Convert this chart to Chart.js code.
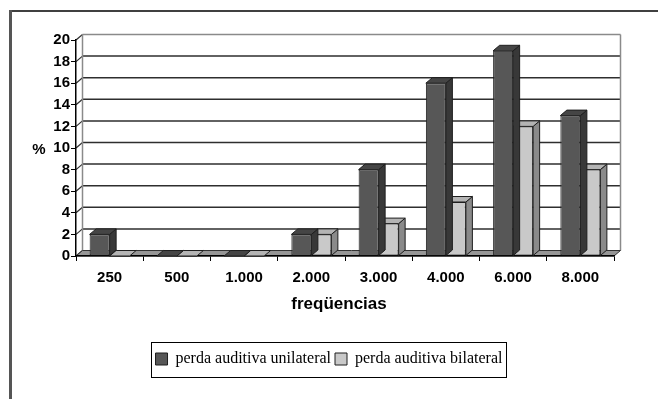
<!DOCTYPE html>
<html>
<head>
<meta charset="utf-8">
<title>Perda auditiva por frequência</title>
<script src="https://cdn.jsdelivr.net/npm/chart.js@4.4.1/dist/chart.umd.min.js"></script>
<style>
  html, body { margin: 0; padding: 0; background: #fff; }
  #wrap { width: 658px; height: 399px; }
</style>
</head>
<body>
<div id="wrap"><canvas id="grafico"></canvas></div>
<script>
const frequencias = ['250', '500', '1.000', '2.000', '3.000', '4.000', '6.000', '8.000'];
const unilateral = [2, 0, 0, 2, 8, 16, 19, 13];
const bilateral = [0, 0, 0, 2, 3, 5, 12, 8];
const yMin = 0;
const yMax = 20;
const yPasso = 2;

// profundidade do efeito 3D (deslocamento da parede do fundo)
const DX = 6.5;
const DY = -5.5;

const cores = {
    uni: { frente: '#575757', topo: '#454545', lado: '#383838' },
    bi: { frente: '#c9c9c9', topo: '#b4b4b4', lado: '#8a8a8a' }
};
const contorno = '#1e1e1e';

function poligono(ctx, pts, fill, stroke, lw) {
    ctx.beginPath();
    ctx.moveTo(pts[0][0], pts[0][1]);
    for (let i = 1; i < pts.length; i++) ctx.lineTo(pts[i][0], pts[i][1]);
    ctx.closePath();
    if (fill) { ctx.fillStyle = fill; ctx.fill(); }
    if (stroke) { ctx.strokeStyle = stroke; ctx.lineWidth = lw || 1; ctx.stroke(); }
}

function linha(ctx, x1, y1, x2, y2, cor, lw) {
    ctx.beginPath();
    ctx.moveTo(x1, y1);
    ctx.lineTo(x2, y2);
    ctx.strokeStyle = cor;
    ctx.lineWidth = lw;
    ctx.stroke();
}

const caixa3d = {
    id: 'caixa3d',
    beforeDraw(chart) {
        const ctx = chart.ctx;
        const a = chart.chartArea;
        const ys = chart.scales.y;
        ctx.save();
        ctx.fillStyle = '#fff';
        ctx.fillRect(0, 0, chart.width, chart.height);

        // moldura externa
        linha(ctx, 9, 11, chart.width, 11, '#000', 1.5);
        linha(ctx, 10.5, 10, 10.5, chart.height, '#555', 3);

        // parede do fundo e linhas de grade
        ctx.fillStyle = '#fff';
        ctx.fillRect(a.left + DX, a.top + DY, a.right - a.left, a.bottom - a.top);
        ys.ticks.forEach(t => {
            const yy = ys.getPixelForValue(t.value);
            if (t.value > yMin && t.value < yMax) {
                linha(ctx, a.left + DX, yy + DY, a.right + DX, yy + DY, '#2e2e2e', 1.5);
            }
            linha(ctx, a.left, yy, a.left + DX, yy + DY, '#2e2e2e', 1.2);
        });
        linha(ctx, a.left + DX, a.top + DY, a.right + DX, a.top + DY, '#8a8a8a', 1.5);
        linha(ctx, a.left + DX, a.top + DY, a.left + DX, a.bottom + DY, '#8a8a8a', 1.5);
        linha(ctx, a.right + DX, a.top + DY, a.right + DX, a.bottom + DY, '#8a8a8a', 1.5);

        // piso
        poligono(ctx, [[a.left, a.bottom], [a.right, a.bottom], [a.right + DX, a.bottom + DY], [a.left + DX, a.bottom + DY]],
            '#969696', '#333', 1);

        // títulos dos eixos
        ctx.fillStyle = '#000';
        ctx.font = 'bold 15px "Liberation Sans", Arial, sans-serif';
        ctx.textAlign = 'center';
        ctx.textBaseline = 'middle';
        ctx.fillText('%', 39, 150);
        ctx.font = 'bold 17px "Liberation Sans", Arial, sans-serif';
        ctx.textBaseline = 'alphabetic';
        ctx.fillText('freqüencias', 339, 309);
        ctx.restore();
    },
    afterDatasetDraw(chart, args) {
        const ctx = chart.ctx;
        const c = args.index === 0 ? cores.uni : cores.bi;
        ctx.save();
        ctx.lineJoin = 'round';
        args.meta.data.forEach(bar => {
            const { x, y, base, width } = bar.getProps(['x', 'y', 'base', 'width'], true);
            const l = x - width / 2;
            const r = x + width / 2;
            if (base - y > 0.5) {
                poligono(ctx, [[r, y], [r + DX, y + DY], [r + DX, base + DY], [r, base]], c.lado, contorno, 1);
            }
            poligono(ctx, [[l, y], [l + DX, y + DY], [r + DX, y + DY], [r, y]], c.topo, contorno, 1);
        });
        ctx.restore();
    },
    afterDraw(chart) {
        // moldura da legenda
        const hb = chart.legend.legendHitBoxes;
        if (!hb || !hb.length) return;
        const ctx = chart.ctx;
        const first = hb[0];
        const last = hb[hb.length - 1];
        const meio = first.top + first.height / 2;
        const x1 = Math.round(first.left - 5) + 0.5;
        const x2 = Math.round(last.left + last.width + 4) + 0.5;
        ctx.save();
        ctx.strokeStyle = '#000';
        ctx.lineWidth = 1;
        ctx.strokeRect(x1, Math.round(meio - 17) + 0.5, x2 - x1, 35);
        ctx.restore();
    }
};

const fonteEixo = { family: '"Liberation Sans", Arial, sans-serif', size: 15, weight: 'bold' };

new Chart(document.getElementById('grafico'), {
    type: 'bar',
    data: {
        labels: frequencias,
        datasets: [
            {
                label: 'perda auditiva unilateral',
                data: unilateral,
                yAxisID: 'y',
                backgroundColor: cores.uni.frente,
                borderColor: contorno,
                borderWidth: 1,
                borderSkipped: false
            },
            {
                label: 'perda auditiva bilateral',
                data: bilateral,
                yAxisID: 'y',
                backgroundColor: cores.bi.frente,
                borderColor: contorno,
                borderWidth: 1,
                borderSkipped: false
            }
        ]
    },
    options: {
        responsive: true,
        maintainAspectRatio: false,
        devicePixelRatio: 1,
        animation: false,
        events: [],
        layout: { padding: { top: 40, bottom: 22, left: 0, right: 0 } },
        datasets: { bar: { categoryPercentage: 0.595, barPercentage: 1 } },
        plugins: {
            tooltip: { enabled: false },
            legend: {
                position: 'bottom',
                labels: {
                    color: '#000',
                    font: { family: '"Liberation Serif", "Times New Roman", serif', size: 16 },
                    boxWidth: 12,
                    boxHeight: 12,
                    padding: 4
                }
            }
        },
        scales: {
            x: {
                grid: { offset: true, drawOnChartArea: false, drawTicks: true, tickLength: 5, color: '#000', lineWidth: 1 },
                border: { display: true, color: '#000', width: 1.5 },
                ticks: { color: '#000', font: fonteEixo, padding: 8, maxRotation: 0, autoSkip: false },
                afterFit: s => { s.height = 91; }
            },
            y: {
                min: yMin,
                max: yMax,
                grid: { drawOnChartArea: false, drawTicks: true, tickLength: 5, color: '#000', lineWidth: 1 },
                border: { display: true, color: '#000', width: 1.5 },
                ticks: { stepSize: yPasso, color: '#000', font: fonteEixo, padding: 1 },
                afterFit: s => { s.width = 76; }
            },
            yr: {
                axis: 'y',
                position: 'right',
                display: true,
                grid: { display: false },
                border: { display: false },
                ticks: { display: false },
                afterFit: s => { s.width = 44; }
            }
        }
    },
    plugins: [caixa3d]
});
</script>
</body>
</html>
